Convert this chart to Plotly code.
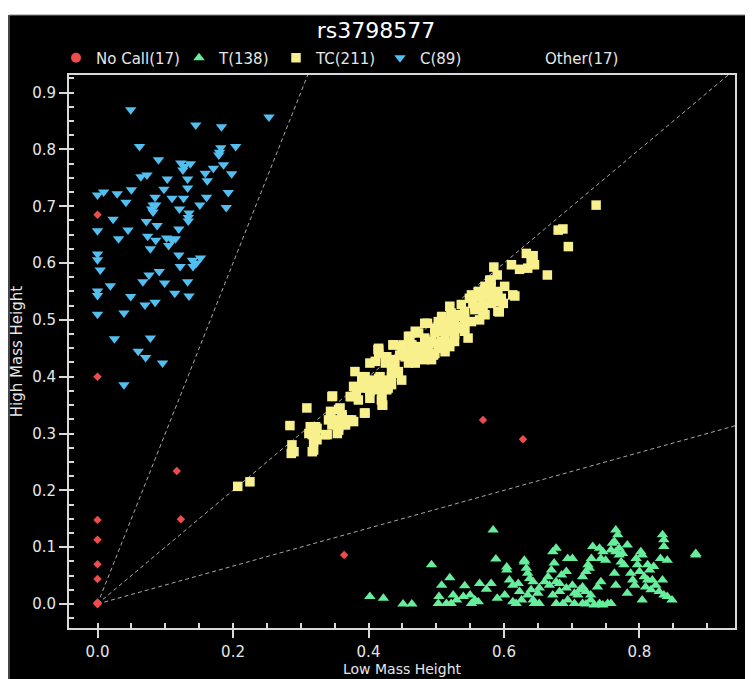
import plotly.graph_objects as go

# ---------------- data ----------------
title_text = "rs3798577"
x_title = "Low Mass Height"
y_title = "High Mass Height"
x_tickvals = [0.0, 0.2, 0.4, 0.6, 0.8]
y_tickvals = [0.0, 0.1, 0.2, 0.3, 0.4, 0.5, 0.6, 0.7, 0.8, 0.9]
ref_slopes = [3.0, 1.0, 1.0 / 3.0]

legend_names = ["No Call(17)", "T(138)", "TC(211)", "C(89)", "Other(17)"]

nocall_x = [0.0, 0.0, 0.0, 0.0, 0.0, 0.0, 0.0, 0.117, 0.123, 0.364, 0.569, 0.628,
            0.0, 0.0, 0.0, 0.0, 0.0]
nocall_y = [0.685, 0.400, 0.148, 0.113, 0.070, 0.044, 0.002, 0.234, 0.149, 0.086, 0.324, 0.290,
            0.0, 0.001, 0.002, 0.0, 0.001]

c_x = [0.049, 0.145, 0.183, 0.062, 0.182, 0.204, 0.179, 0.090, 0.123, 0.137, 0.126, 0.171,
       0.186, 0.159, 0.198, 0.073, 0.103, 0.133, 0.162, 0.133, 0.098, 0.050, 0.009, 0.0,
       0.029, 0.193, 0.085, 0.110, 0.127, 0.161, 0.042, 0.082, 0.151, 0.190, 0.121, 0.082,
       0.135, 0.023, 0.134, 0.072, 0.088, 0.0, 0.045, 0.031, 0.074, 0.086, 0.102, 0.115,
       0.105, 0.078, 0.0, 0.0, 0.120, 0.152, 0.146, 0.004, 0.122, 0.141, 0.091, 0.076,
       0.067, 0.099, 0.133, 0.019, 0.0, 0.0, 0.049, 0.114, 0.135, 0.070, 0.085, 0.0,
       0.039, 0.025, 0.078, 0.060, 0.071, 0.096, 0.039, 0.253,
       0.134, 0.180, 0.128, 0.086, 0.080, 0.140, 0.110, 0.064, 0.120]
c_y = [0.870, 0.843, 0.840, 0.805, 0.803, 0.805, 0.790, 0.782, 0.776, 0.775, 0.764, 0.767,
       0.773, 0.758, 0.757, 0.755, 0.748, 0.748, 0.745, 0.732, 0.730, 0.729, 0.725, 0.720,
       0.722, 0.724, 0.716, 0.714, 0.714, 0.716, 0.707, 0.702, 0.702, 0.698, 0.695, 0.690,
       0.688, 0.677, 0.674, 0.673, 0.666, 0.657, 0.658, 0.643, 0.647, 0.640, 0.644, 0.643,
       0.631, 0.625, 0.616, 0.606, 0.614, 0.609, 0.600, 0.588, 0.594, 0.594, 0.585, 0.579,
       0.567, 0.565, 0.567, 0.560, 0.551, 0.543, 0.541, 0.547, 0.542, 0.526, 0.531, 0.510,
       0.512, 0.467, 0.468, 0.445, 0.434, 0.424, 0.386, 0.857,
       0.680, 0.795, 0.770, 0.702, 0.695, 0.605, 0.640, 0.752, 0.660]

t_points = [
    (0.402, 0.013), (0.422, 0.010), (0.451, 0.000), (0.464, 0.000), (0.493, 0.069), (0.503, 0.001),
    (0.504, 0.013), (0.508, 0.033), (0.520, 0.046), (0.515, 0.001), (0.522, 0.001), (0.525, 0.016),
    (0.530, 0.007), (0.542, 0.032), (0.540, 0.013), (0.550, 0.016), (0.552, 0.001), (0.557, 0.007),
    (0.562, 0.004), (0.564, 0.036), (0.574, 0.026), (0.581, 0.036), (0.584, 0.130), (0.588, 0.079),
    (0.590, 0.010), (0.601, 0.016), (0.604, 0.060), (0.608, 0.042), (0.613, 0.033), (0.621, 0.036),
    (0.623, 0.022), (0.626, 0.007), (0.613, 0.004), (0.618, 0.001), (0.630, 0.074), (0.633, 0.063),
    (0.635, 0.054), (0.638, 0.045), (0.643, 0.039), (0.640, 0.025), (0.635, 0.016), (0.643, 0.007),
    (0.645, 0.001), (0.652, 0.001), (0.650, 0.019), (0.665, 0.048), (0.670, 0.060), (0.672, 0.092),
    (0.677, 0.098), (0.674, 0.072), (0.667, 0.033), (0.677, 0.039), (0.682, 0.036), (0.685, 0.051),
    (0.692, 0.057), (0.694, 0.080), (0.701, 0.080), (0.672, 0.016), (0.682, 0.022), (0.692, 0.028),
    (0.694, 0.007), (0.687, 0.001), (0.677, 0.001), (0.701, 0.033), (0.704, 0.019), (0.709, 0.016),
    (0.712, 0.025), (0.716, 0.030), (0.721, 0.022), (0.704, 0.001), (0.716, 0.001), (0.721, 0.000),
    (0.728, 0.007), (0.716, 0.048), (0.721, 0.057), (0.724, 0.069), (0.726, 0.063), (0.729, 0.080),
    (0.731, 0.101), (0.741, 0.098), (0.728, 0.016), (0.738, 0.030), (0.743, 0.039), (0.741, 0.001),
    (0.746, -0.002), (0.733, -0.002), (0.743, 0.080), (0.746, 0.092), (0.750, 0.077), (0.753, 0.001),
    (0.758, 0.001), (0.758, 0.095), (0.765, 0.092), (0.770, 0.098), (0.763, 0.110), (0.768, 0.122),
    (0.765, 0.130), (0.763, 0.054), (0.765, 0.033), (0.770, 0.086), (0.775, 0.089), (0.773, 0.074),
    (0.782, 0.104), (0.777, 0.069), (0.782, 0.019), (0.787, 0.054), (0.790, 0.042), (0.793, 0.033),
    (0.795, 0.080), (0.797, 0.069), (0.802, 0.092), (0.804, 0.086), (0.800, 0.057), (0.807, 0.048),
    (0.812, 0.069), (0.815, 0.060), (0.821, 0.066), (0.812, 0.042), (0.809, 0.030), (0.817, 0.025),
    (0.804, 0.007), (0.819, 0.042), (0.824, 0.033), (0.829, 0.022), (0.836, 0.016), (0.834, 0.042),
    (0.841, 0.013), (0.848, 0.007), (0.834, 0.122), (0.836, 0.113), (0.836, 0.101), (0.831, 0.080),
    (0.841, 0.077), (0.883, 0.089), (0.883, 0.086), (0.760, 0.107), (0.604, 0.065), (0.630, 0.077),
    (0.660, 0.039), (0.652, 0.028),
]

tc_points = [
    (0.736, 0.702), (0.680, 0.658), (0.687, 0.660), (0.695, 0.629), (0.633, 0.617), (0.643, 0.613),
    (0.640, 0.603), (0.635, 0.591), (0.645, 0.597), (0.611, 0.597), (0.623, 0.589), (0.664, 0.579),
    (0.585, 0.593), (0.590, 0.579), (0.579, 0.570), (0.572, 0.559), (0.581, 0.559), (0.601, 0.559),
    (0.616, 0.542), (0.552, 0.544), (0.562, 0.541), (0.574, 0.547), (0.586, 0.544), (0.596, 0.538),
    (0.599, 0.529), (0.557, 0.524), (0.569, 0.527), (0.581, 0.529), (0.593, 0.514), (0.572, 0.509),
    (0.520, 0.524), (0.537, 0.527), (0.508, 0.506), (0.522, 0.509), (0.532, 0.506), (0.542, 0.500),
    (0.552, 0.497), (0.564, 0.500), (0.487, 0.494), (0.503, 0.488), (0.515, 0.488), (0.530, 0.488),
    (0.542, 0.485), (0.498, 0.477), (0.513, 0.474), (0.527, 0.477), (0.547, 0.468), (0.461, 0.471),
    (0.474, 0.477), (0.483, 0.465), (0.493, 0.459), (0.508, 0.456), (0.520, 0.453), (0.449, 0.453),
    (0.464, 0.447), (0.476, 0.450), (0.436, 0.456), (0.415, 0.447), (0.425, 0.435), (0.454, 0.435),
    (0.469, 0.432), (0.483, 0.430), (0.498, 0.441), (0.410, 0.427), (0.425, 0.427), (0.439, 0.424),
    (0.434, 0.409), (0.444, 0.406), (0.449, 0.394), (0.390, 0.400), (0.405, 0.394), (0.415, 0.389),
    (0.425, 0.394), (0.429, 0.380), (0.378, 0.383), (0.390, 0.380), (0.402, 0.374), (0.415, 0.377),
    (0.375, 0.365), (0.385, 0.359), (0.402, 0.362), (0.419, 0.359), (0.421, 0.350), (0.347, 0.366),
    (0.309, 0.345), (0.344, 0.339), (0.356, 0.342), (0.361, 0.330), (0.371, 0.324), (0.378, 0.321),
    (0.394, 0.336), (0.341, 0.324), (0.346, 0.315), (0.356, 0.312), (0.366, 0.315), (0.354, 0.300),
    (0.339, 0.298), (0.314, 0.312), (0.324, 0.309), (0.322, 0.300), (0.312, 0.300), (0.284, 0.314),
    (0.319, 0.286), (0.319, 0.271), (0.287, 0.280), (0.286, 0.265), (0.414, 0.448), (0.207, 0.207),
    (0.225, 0.215), (0.317, 0.268), (0.336, 0.298), (0.581, 0.570), (0.562, 0.550), (0.571, 0.553),
    (0.567, 0.541), (0.576, 0.544), (0.591, 0.550), (0.613, 0.544), (0.549, 0.538), (0.554, 0.529),
    (0.586, 0.532), (0.596, 0.535), (0.591, 0.515), (0.557, 0.518), (0.569, 0.512), (0.522, 0.512),
    (0.535, 0.509), (0.542, 0.515), (0.508, 0.503), (0.518, 0.497), (0.527, 0.494), (0.542, 0.497),
    (0.498, 0.485), (0.508, 0.480), (0.518, 0.482), (0.532, 0.485), (0.542, 0.480), (0.527, 0.474),
    (0.469, 0.480), (0.459, 0.471), (0.483, 0.468), (0.493, 0.462), (0.508, 0.462), (0.518, 0.459),
    (0.527, 0.462), (0.451, 0.456), (0.464, 0.456), (0.474, 0.450), (0.488, 0.447), (0.503, 0.450),
    (0.513, 0.444), (0.454, 0.438), (0.469, 0.435), (0.483, 0.432), (0.496, 0.438), (0.290, 0.268),
    (0.317, 0.298), (0.322, 0.312), (0.324, 0.289), (0.346, 0.365), (0.344, 0.330), (0.353, 0.324),
    (0.358, 0.345), (0.361, 0.333), (0.366, 0.318), (0.356, 0.306), (0.375, 0.324), (0.373, 0.365),
    (0.382, 0.374), (0.395, 0.336), (0.390, 0.397), (0.390, 0.383), (0.400, 0.380), (0.410, 0.383),
    (0.420, 0.350), (0.420, 0.365), (0.427, 0.377), (0.434, 0.386), (0.415, 0.397), (0.415, 0.450),
    (0.437, 0.456), (0.427, 0.435), (0.437, 0.430), (0.446, 0.438), (0.437, 0.418), (0.444, 0.409),
    (0.434, 0.400), (0.461, 0.441), (0.476, 0.441), (0.486, 0.456), (0.483, 0.494), (0.503, 0.497),
    (0.513, 0.480), (0.505, 0.459), (0.493, 0.430), (0.469, 0.424), (0.459, 0.424), (0.380, 0.409),
    (0.395, 0.400), (0.400, 0.389), (0.407, 0.392), (0.417, 0.400), (0.422, 0.389), (0.402, 0.424),
    (0.425, 0.424), (0.415, 0.441), (0.469, 0.453),
]

# ---------------- styling ----------------
FONT = "DejaVu Sans"
AXIS_COL = "#d9d9d9"
TEXT_COL = "#e6e6e6"
COL_NOCALL = "#f04b4b"
COL_T = "#66ee9c"
COL_TC = "#f8f08c"
COL_C = "#52bff0"

# the page body has an 8px margin, so the figure sits at (8, 8) in the window
OFF = 8
W, H = 745, 679
L, R, T, B = 61, 18, 67, 59

fig = go.Figure()

x_far = 1.2
for s in ref_slopes:
    fig.add_trace(go.Scatter(x=[0, x_far], y=[0, s * x_far], mode="lines",
                             line=dict(color="#a8a8a8", width=1, dash="4px,3px"),
                             showlegend=False, hoverinfo="skip"))

tx = [p[0] for p in t_points]
ty = [p[1] for p in t_points]
tcx = [p[0] for p in tc_points]
tcy = [p[1] for p in tc_points]

fig.add_trace(go.Scatter(x=tcx, y=tcy, mode="markers", name=legend_names[2], legend="legend3",
                         marker=dict(symbol="square", size=9.5, color=COL_TC, line=dict(width=0))))
fig.add_trace(go.Scatter(x=tx, y=ty, mode="markers", name=legend_names[1], legend="legend2",
                         marker=dict(symbol="triangle-up", size=10, color=COL_T, line=dict(width=0))))
fig.add_trace(go.Scatter(x=c_x, y=c_y, mode="markers", name=legend_names[3], legend="legend4",
                         marker=dict(symbol="triangle-down", size=10, color=COL_C, line=dict(width=0))))
fig.add_trace(go.Scatter(x=nocall_x, y=nocall_y, mode="markers", showlegend=False,
                         marker=dict(symbol="diamond", size=6.5, color=COL_NOCALL, line=dict(width=0))))
fig.add_trace(go.Scatter(x=[None], y=[None], mode="markers", name=legend_names[0], legend="legend",
                         marker=dict(symbol="circle", size=10, color=COL_NOCALL, line=dict(width=0))))
fig.add_trace(go.Scatter(x=[None], y=[None], mode="markers", name=legend_names[4], legend="legend5",
                         marker=dict(symbol="circle", size=10, color="rgba(0,0,0,0)", line=dict(width=0))))

legend_text_x = [96, 219, 316, 420, 545]   # window pixels where each legend text starts
leg_y = 1 - (58 - OFF) / H
legend_common = dict(orientation="h", xref="container", yref="container", y=leg_y,
                     yanchor="middle", xanchor="left", bgcolor="rgba(0,0,0,0)",
                     font=dict(family=FONT, size=15, color=TEXT_COL), borderwidth=0)
legends = {}
for i, key in enumerate(["legend", "legend2", "legend3", "legend4", "legend5"]):
    legends[key] = dict(legend_common, x=(legend_text_x[i] - OFF - 40) / W)

fig.update_layout(
    width=W, height=H,
    margin=dict(l=L, r=R, t=T, b=B, autoexpand=False),
    paper_bgcolor="black", plot_bgcolor="black",
    title=dict(text=title_text, x=(376 - OFF) / W, xref="container", xanchor="center",
               y=1 - (30 - OFF) / H, yref="container", yanchor="middle",
               font=dict(family=FONT, size=22, color="white")),
    **legends,
    xaxis=dict(range=[-0.0421, 0.941], tickvals=x_tickvals, tickformat=".1f",
               showgrid=False, zeroline=False, showline=True, linecolor=AXIS_COL, linewidth=2,
               mirror=True, ticks="outside", ticklen=8, tickwidth=1.5, tickcolor=AXIS_COL,
               ticklabelstandoff=1,
               minor=dict(dtick=0.05, tick0=0, ticks="inside", ticklen=5, tickcolor=AXIS_COL, showgrid=False),
               tickfont=dict(family=FONT, size=15, color=TEXT_COL),
               title=dict(text=x_title, standoff=0, font=dict(family=FONT, size=14, color=TEXT_COL))),
    yaxis=dict(range=[-0.0423, 0.931], tickvals=y_tickvals, tickformat=".1f",
               showgrid=False, zeroline=False, showline=True, linecolor=AXIS_COL, linewidth=2,
               mirror=True, ticks="outside", ticklen=8, tickwidth=1.5, tickcolor=AXIS_COL,
               minor=dict(dtick=0.025, tick0=0, ticks="inside", ticklen=5, tickcolor=AXIS_COL, showgrid=False),
               tickfont=dict(family=FONT, size=15, color=TEXT_COL),
               title=dict(text=y_title, standoff=8, font=dict(family=FONT, size=15, color=TEXT_COL))),
)

pw = W - L - R
ph = H - T - B
def px_x(v):
    return (v - L) / pw
def px_y(v):
    return (H - B - v) / ph

# white strip above the dark panel and a thin grey frame
fig.add_shape(type="rect", xref="paper", yref="paper", x0=px_x(-5), x1=px_x(W + 5),
              y0=px_y(-5), y1=px_y(15 - OFF), fillcolor="white", line=dict(width=0), layer="below")
fig.add_shape(type="rect", xref="paper", yref="paper", x0=px_x(9 - OFF), x1=px_x(W + 5),
              y0=px_y(H + 5), y1=px_y(15 - OFF), fillcolor="rgba(0,0,0,0)",
              line=dict(color="#8a8a8a", width=1), layer="below")

fig.write_html("out.html")
